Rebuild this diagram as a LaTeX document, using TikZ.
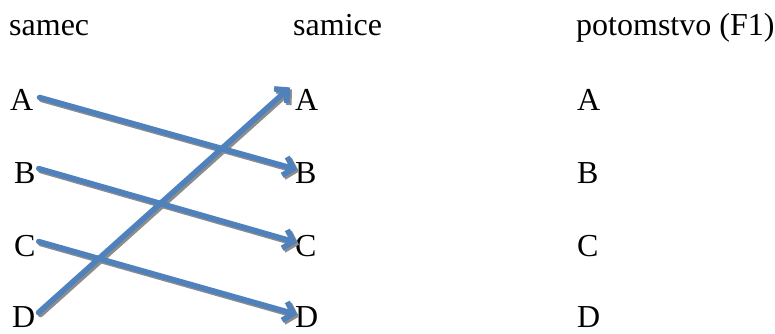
\documentclass[tikz,border=0pt]{standalone}
\usepackage{fontspec}
\setmainfont{Liberation Serif}
\usetikzlibrary{arrows.meta,calc}
\definecolor{arrblue}{HTML}{4F81BD}
\definecolor{shadowgray}{HTML}{8C8C8C}
\begin{document}
\begin{tikzpicture}[x=1pt,y=-1pt,
  lbl/.style={anchor=base west,inner sep=0pt,font=\fontsize{32}{36}\selectfont},
  conn/.style={line width=5.5pt,draw=arrblue,line cap=round,
    -{Straight Barb[length=9pt,width=19pt]}},
  connshadow/.style={conn,draw=shadowgray,transform canvas={shift={(2pt,-2pt)}}}]
\useasboundingbox (0,0) rectangle (775,333);
% headers
\node[lbl] (h1) at (9,35) {samec};
\node[lbl] (h2) at (293,35) {samice};
\node[lbl] (h3) at (576,35) {potomstvo (F1)};
% left column
\node[lbl] (lA) at (10,110) {A};
\node[lbl] (lB) at (14,183) {B};
\node[lbl] (lC) at (14,256) {C};
\node[lbl] (lD) at (12,327) {D};
% middle column
\node[lbl] (mA) at (295,110) {A};
\node[lbl] (mB) at (295,183) {B};
\node[lbl] (mC) at (295,256) {C};
\node[lbl] (mD) at (295,327) {D};
% right column
\node[lbl] (rA) at (577,110) {A};
\node[lbl] (rB) at (577,183) {B};
\node[lbl] (rC) at (577,256) {C};
\node[lbl] (rD) at (577,327) {D};
% connector shadows
\draw[connshadow] ($(lA.east)+(6,-2)$) -- ($(mB.west)+(2,-3)$);
\draw[connshadow] ($(lB.east)+(3,-4)$) -- ($(mC.west)+(2,-3)$);
\draw[connshadow] ($(lC.east)+(3,-4)$) -- ($(mD.west)+(2,-2)$);
\draw[connshadow] ($(lD.east)+(3,-4)$) -- ($(mA.west)+(-5,-12)$);
% connectors
\draw[conn] ($(lA.east)+(6,-2)$) -- ($(mB.west)+(2,-3)$);
\draw[conn] ($(lB.east)+(3,-4)$) -- ($(mC.west)+(2,-3)$);
\draw[conn] ($(lC.east)+(3,-4)$) -- ($(mD.west)+(2,-2)$);
\draw[conn] ($(lD.east)+(3,-4)$) -- ($(mA.west)+(-5,-12)$);
\end{tikzpicture}
\end{document}
